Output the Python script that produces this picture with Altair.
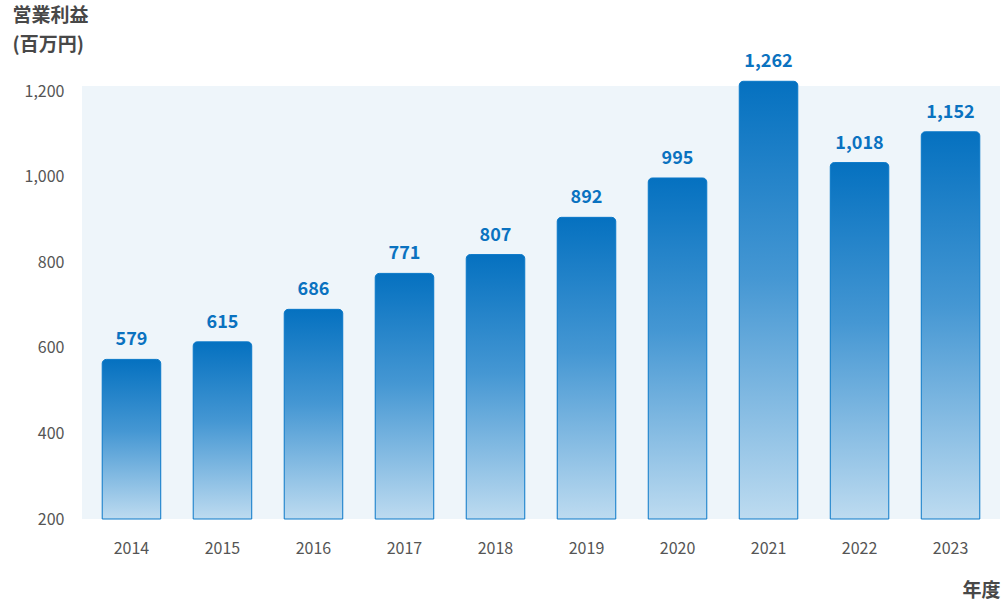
import altair as alt
import pandas as pd

years = ["2014", "2015", "2016", "2017", "2018", "2019", "2020", "2021", "2022", "2023"]
profit_labels = [579, 615, 686, 771, 807, 892, 995, 1262, 1018, 1152]
bar_heights = [573, 614, 690, 774, 818, 905, 997, 1223, 1033, 1105]
y_ticks = [200, 400, 600, 800, 1000, 1200]

df = pd.DataFrame({
    "year": years,
    "label": [f"{v:,}" for v in profit_labels],
    "h": bar_heights,
})

FONT = "Noto Sans CJK JP"

x_enc = alt.X(
    "year:N",
    sort=years,
    scale=alt.Scale(paddingInner=0.357, paddingOuter=0.222),
    axis=alt.Axis(
        title="年度",
        labelAngle=0,
        labelPadding=21,
        labelFontSize=16,
        labelColor="#555555",
        labelFont=FONT,
        domain=False,
        ticks=False,
        titleFont=FONT,
        titleFontSize=19,
        titleFontWeight="bold",
        titleColor="#484848",
        titleAlign="right",
        titleAnchor="end",
        titleBaseline="middle",
        titleX=918,
        titleY=71,
    ),
)

y_scale = alt.Scale(domain=[200, 1212], nice=False, zero=False)

bars = alt.Chart(df).mark_bar(
    fill=alt.Gradient(
        gradient="linear",
        x1=0, y1=0, x2=0, y2=1,
        stops=[
            alt.GradientStop(color="#0571c0", offset=0),
            alt.GradientStop(color="#4597d3", offset=0.45),
            alt.GradientStop(color="#bddbf0", offset=1),
        ],
    ),
    stroke="#0a78c8",
    strokeWidth=1,
    cornerRadiusTopLeft=4,
    cornerRadiusTopRight=4,
    clip=False,
).encode(
    x=x_enc,
    y=alt.Y(
        "h:Q",
        scale=y_scale,
        axis=alt.Axis(
            values=y_ticks,
            format=",.0f",
            grid=False,
            domain=False,
            ticks=False,
            labelPadding=18,
            labelFontSize=16,
            labelColor="#555555",
            labelFont=FONT,
            title=["営業利益", "(百万円)"],
            titleFont=FONT,
            titleFontSize=19,
            titleFontWeight="bold",
            titleColor="#484848",
            titleAngle=0,
            titleAlign="left",
            titleBaseline="top",
            titleLineHeight=29,
            titleX=-70,
            titleY=-80,
        ),
    ),
    y2=alt.datum(200),
)

labels = alt.Chart(df).mark_text(
    font=FONT,
    fontSize=18,
    fontWeight="bold",
    color="#0a72c0",
    baseline="alphabetic",
    dy=-14,
).encode(
    x=alt.X("year:N", sort=years),
    y=alt.Y("h:Q", scale=y_scale),
    text="label:N",
)

chart = alt.layer(bars, labels).properties(
    width=918,
    height=433,
    background="#ffffff",
    autosize=alt.AutoSizeParams(type="none"),
    padding={"left": 82, "top": 86, "right": 1, "bottom": 88},
).configure_view(
    strokeWidth=0,
    fill="#eef5fa",
)

chart.save("out.html", embed_options={"renderer": "svg", "actions": False})
